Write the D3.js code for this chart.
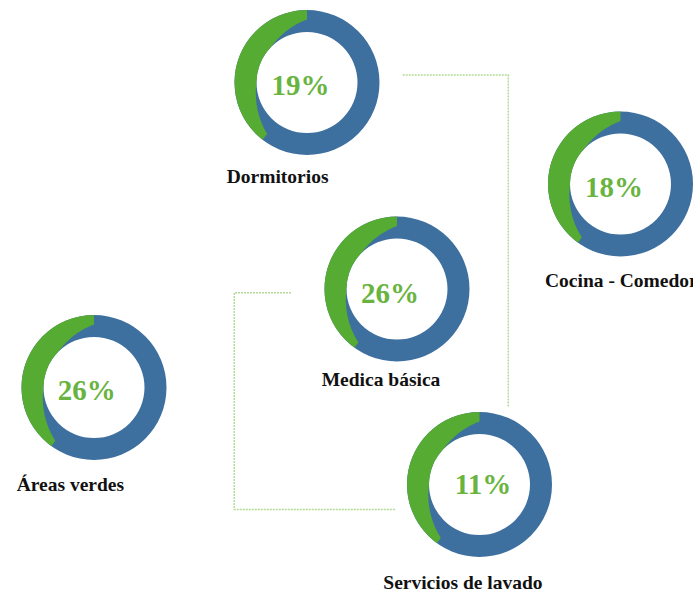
<!DOCTYPE html>
<html>
<head>
<meta charset="utf-8">
<script src="https://cdn.jsdelivr.net/npm/d3@7"></script>
<style>
  html, body { margin: 0; padding: 0; background: #ffffff; }
  svg { display: block; }
</style>
</head>
<body>
<svg id="chart" width="693" height="595"></svg>
<script>
// Areas and the percentage shown in the middle of each ring
const categories = ["Dormitorios", "Cocina - Comedor", "Medica básica", "Áreas verdes", "Servicios de lavado"];
const percentages = [19, 18, 26, 26, 11];
// Share of each ring painted with the green accent (counter-clockwise from 12 o'clock)
const accentShare = [0.395, 0.40, 0.40, 0.40, 0.40];

// Ring placement and text anchors
const layout = [
  { cx: 307,   cy: 82.5,  pctX: 300.5, pctY: 95,    labelX: 226.7, labelY: 182.5 },
  { cx: 620.5, cy: 184,   pctX: 614,   pctY: 196.5, labelX: 545,   labelY: 286.5 },
  { cx: 397,   cy: 289,   pctX: 390,   pctY: 303,   labelX: 321.7, labelY: 386   },
  { cx: 94,    cy: 387.5, pctX: 86.7,  pctY: 400,   labelX: 16.7,  labelY: 490.5 },
  { cx: 479.5, cy: 484.5, pctX: 483,   pctY: 494,   labelX: 383.3, labelY: 589   }
];

// Dotted connectors between the rings
const connectors = [
  [[402.7, 75], [508.3, 75], [508.3, 406.7]],
  [[291, 292.7], [234.3, 292.7], [234.3, 509.5], [396, 509.5]]
];

const outerR = 72.5, innerR = 50.5;
// the accent is a crescent: its inner edge follows an off-centre circle
const crescent = { dx: 27.5, dy: 10.8, r: 78.7 };
const colors = { ring: "#3d6f9f", accent: "#56ab32", pct: "#69b43f", label: "#111111", connector: "#b3da98" };
const serif = "'Liberation Serif', 'Times New Roman', Times, serif";

const svg = d3.select("#chart");

// everything except the off-centre disc
const pad = outerR + 10;
svg.append("defs").append("clipPath")
  .attr("id", "accent-clip")
  .append("path")
  .attr("clip-rule", "evenodd")
  .attr("d", () => {
    const p = d3.path();
    p.rect(-pad, -pad, 2 * pad, 2 * pad);
    p.moveTo(crescent.dx + crescent.r, crescent.dy);
    p.arc(crescent.dx, crescent.dy, crescent.r, 0, 2 * Math.PI);
    p.closePath();
    return p.toString();
  });

// share of a full turn -> angle, running counter-clockwise
const angle = d3.scaleLinear().domain([0, 1]).range([0, -2 * Math.PI]);
const arc = d3.arc().innerRadius(innerR).outerRadius(outerR);

const line = d3.line();
svg.append("g").selectAll("path")
  .data(connectors)
  .join("path")
  .attr("d", line)
  .attr("fill", "none")
  .attr("stroke", colors.connector)
  .attr("stroke-width", 1.5)
  .attr("stroke-dasharray", "2,1");

const rows = categories.map((name, i) => ({ name, pct: percentages[i], share: accentShare[i], pos: layout[i] }));

const g = svg.append("g").selectAll("g")
  .data(rows)
  .join("g")
  .attr("transform", d => `translate(${d.pos.cx},${d.pos.cy})`);

g.append("path")
  .attr("d", () => arc({ startAngle: angle(0), endAngle: angle(1) }))
  .attr("fill", colors.ring);

g.append("path")
  .attr("d", d => arc({ startAngle: angle(0), endAngle: angle(d.share) }))
  .attr("clip-path", "url(#accent-clip)")
  .attr("fill", colors.accent);

svg.append("g").selectAll("text")
  .data(rows)
  .join("text")
  .attr("x", d => d.pos.pctX)
  .attr("y", d => d.pos.pctY)
  .attr("text-anchor", "middle")
  .attr("font-family", serif)
  .attr("font-weight", "bold")
  .attr("font-size", "29px")
  .attr("fill", colors.pct)
  .text(d => d.pct + "%");

svg.append("g").selectAll("text")
  .data(rows)
  .join("text")
  .attr("x", d => d.pos.labelX)
  .attr("y", d => d.pos.labelY)
  .attr("font-family", serif)
  .attr("font-weight", "bold")
  .attr("font-size", "19.5px")
  .attr("fill", colors.label)
  .text(d => d.name);
</script>
</body>
</html>
